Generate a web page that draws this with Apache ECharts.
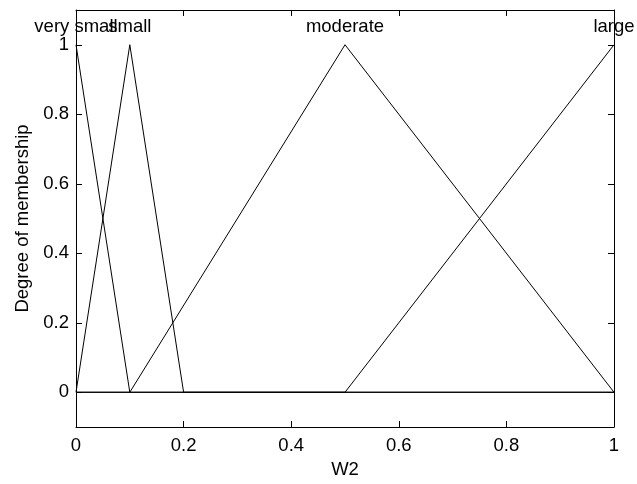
<!DOCTYPE html>
<html><head><meta charset="utf-8">
<script src="https://cdn.jsdelivr.net/npm/echarts@6/dist/echarts.min.js"></script>
<style>html,body{margin:0;padding:0;background:#fff}#c{width:637px;height:484px}</style>
</head><body><div id="c"></div>
<script>
// membership functions (trimf breakpoints), sampled as polylines over [0,1]
const mfNames = ['very small', 'small', 'moderate', 'large'];
const verySmallX = [0, 0.1, 1];
const verySmallY = [1, 0, 0];
const smallX = [0, 0.1, 0.2, 1];
const smallY = [0, 1, 0, 0];
const moderateX = [0, 0.1, 0.5, 1];
const moderateY = [0, 0, 1, 0];
const largeX = [0, 0.5, 1];
const largeY = [0, 0, 1];
const peakX = [0, 0.1, 0.5, 1];
const peakY = [1, 1, 1, 1];
const xTicks = [0, 0.2, 0.4, 0.6, 0.8, 1];
const yTicks = [0, 0.2, 0.4, 0.6, 0.8, 1];

const FONT = 'Liberation Sans, Arial, sans-serif';
const FS = 18.5;
function pts(xs, ys) { return xs.map((x, i) => [x, ys[i]]); }
const curves = [pts(verySmallX, verySmallY), pts(smallX, smallY), pts(moderateX, moderateY), pts(largeX, largeY)];

const chart = echarts.init(document.getElementById('c'), null, {renderer: 'canvas'});
const axisCommon = {
  axisLine: {show: true, onZero: false, lineStyle: {color: '#000', width: 1}},
  splitLine: {show: false}
};
const option = {
  animation: false,
  backgroundColor: '#fff',
  grid: {left: 76, right: 23, top: 10, bottom: 56, containLabel: false},
  xAxis: [
    Object.assign({
      type: 'value', min: 0, max: 1, interval: 0.2, position: 'bottom',
      name: 'W2', nameLocation: 'middle', nameGap: 33,
      nameTextStyle: {color: '#000', fontFamily: FONT, fontSize: FS},
      axisTick: {show: true, inside: true, length: 6, customValues: xTicks, lineStyle: {color: '#000'}},
      axisLabel: {color: '#000', fontFamily: FONT, fontSize: FS, margin: 9, customValues: xTicks,
        formatter: v => String(Math.round(v * 10) / 10)}
    }, axisCommon),
    Object.assign({
      type: 'value', min: 0, max: 1, interval: 0.2, position: 'top',
      axisTick: {show: true, inside: true, length: 6, lineStyle: {color: '#000'}},
      axisLabel: {show: false}
    }, axisCommon)
  ],
  yAxis: [
    Object.assign({
      type: 'value', min: -0.1, max: 1.1, position: 'left',
      name: 'Degree of membership', nameLocation: 'middle', nameGap: 42, nameRotate: 90,
      nameTextStyle: {color: '#000', fontFamily: FONT, fontSize: FS},
      axisTick: {show: true, inside: true, length: 6, customValues: yTicks, lineStyle: {color: '#000'}},
      axisLabel: {color: '#000', fontFamily: FONT, fontSize: FS, margin: 7, customValues: yTicks,
        formatter: v => String(Math.round(v * 10) / 10)}
    }, axisCommon),
    Object.assign({
      type: 'value', min: -0.1, max: 1.1, position: 'right',
      axisTick: {show: true, inside: true, length: 6, customValues: yTicks, lineStyle: {color: '#000'}},
      axisLabel: {show: false}
    }, axisCommon)
  ],
  series: curves.map((d, i) => ({
    type: 'line', name: mfNames[i], data: d, xAxisIndex: 0, yAxisIndex: 0,
    symbol: 'none', lineStyle: {color: '#000', width: 1}, silent: true
  })).concat([{
    type: 'scatter', xAxisIndex: 0, yAxisIndex: 0, symbolSize: 0,
    itemStyle: {opacity: 1},
    data: peakX.map((x, i) => ({value: [x, peakY[i]], name: mfNames[i]})),
    label: {show: true, position: 'top', distance: 8, formatter: p => p.name,
      color: '#000', opacity: 1, textBorderWidth: 0, fontFamily: FONT, fontSize: FS},
    silent: true
  }])
};
chart.setOption(option);
</script></body></html>
